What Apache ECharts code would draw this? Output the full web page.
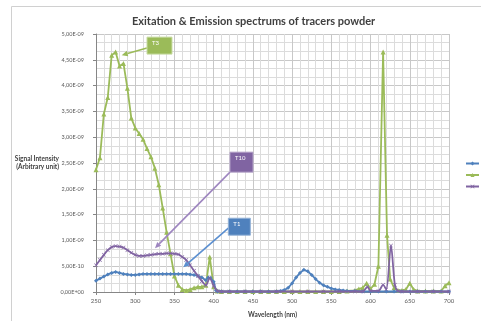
<!DOCTYPE html>
<html>
<head>
<meta charset="utf-8">
<script src="https://cdn.jsdelivr.net/npm/echarts@6/dist/echarts.min.js"></script>
<style>
html,body{margin:0;padding:0;background:#fff;}
#chart{width:481px;height:321px;}
</style>
</head>
<body>
<div id="chart"></div>
<script>
// ---- data (values in units of 1e-9, wavelength in nm) ----
const seriesNames = ['T1', 'T3', 'T10'];
const xTicks = [250, 300, 350, 400, 450, 500, 550, 600, 650, 700];

const t1Wavelength = [250,255,260,265,270,275,280,285,290,295,300,305,310,315,320,325,330,335,340,345,350,355,360,365,370,375,380,385,390,393,396,400,403,405,410,420,430,440,450,460,470,480,485,490,495,500,505,510,515,520,525,530,535,540,545,550,555,560,565,570,580,590,600,610,620,630,640,650,660,670,680,690,700];
const t1Values = [0.22,0.26,0.30,0.34,0.37,0.39,0.37,0.35,0.34,0.33,0.33,0.34,0.35,0.35,0.35,0.35,0.35,0.35,0.35,0.35,0.35,0.35,0.35,0.35,0.34,0.33,0.31,0.28,0.23,0.28,0.27,0.20,0.03,0.01,0.01,0.01,0.01,0.01,0.01,0.01,0.01,0.01,0.02,0.04,0.08,0.17,0.28,0.37,0.43,0.40,0.33,0.25,0.18,0.13,0.10,0.07,0.05,0.04,0.03,0.02,0.02,0.01,0.01,0.01,0.01,0.01,0.01,0.01,0.01,0.01,0.01,0.01,0.01];

const t3Wavelength = [250,255,260,265,270,275,280,285,290,295,300,305,310,315,320,325,330,335,340,345,350,355,360,365,370,375,380,385,390,395,400,405,410,420,430,440,450,460,470,480,490,500,510,520,530,540,550,560,570,580,585,590,595,600,605,610,616,621,625,630,635,640,645,650,655,660,670,680,690,695,700];
const t3Values = [2.37,2.60,3.45,3.77,4.59,4.65,4.38,4.43,3.95,3.37,3.18,3.07,2.96,2.78,2.62,2.40,2.08,1.63,1.16,0.74,0.31,0.13,0.05,0.03,0.05,0.08,0.10,0.10,0.13,0.68,0.10,0.02,0.01,0.01,0.01,0.01,0.01,0.01,0.01,0.01,0.01,0.01,0.01,0.01,0.01,0.01,0.01,0.01,0.02,0.03,0.06,0.08,0.17,0.06,0.15,0.50,4.65,1.10,0.25,0.08,0.03,0.03,0.05,0.17,0.05,0.02,0.02,0.02,0.02,0.12,0.18];

const t10Wavelength = [250,255,260,265,270,275,280,285,290,295,300,305,310,315,320,325,330,335,340,345,350,355,360,365,370,375,380,385,390,395,400,405,410,420,440,460,480,500,520,540,560,580,590,596,600,610,616,620,626,631,635,640,660,680,700];
const t10Values = [0.52,0.62,0.72,0.81,0.87,0.89,0.88,0.86,0.81,0.76,0.72,0.70,0.70,0.71,0.72,0.73,0.74,0.74,0.75,0.75,0.74,0.73,0.68,0.62,0.52,0.41,0.31,0.21,0.13,0.27,0.12,0.02,0.01,0.01,0.01,0.01,0.01,0.01,0.01,0.01,0.01,0.01,0.01,0.10,0.02,0.02,0.14,0.05,0.90,0.14,0.02,0.01,0.01,0.01,0.01];

const SCALE = 1e-9;
function pairs(xs, ys){ return xs.map((x,i)=>[x, ys[i]*SCALE]); }

const colors = { T1:'#4F81BD', T3:'#9BBB59', T10:'#8064A2' };

// callout annotations (anchors in data units, size in px)
const callouts = [
  { text:'T3',  fill:'#9BBB59', stroke:'#C9DCA4', arrow:'#9BBB59', boxAt:[315, 4.94e-9], w:25, h:17, tailDy:11, tailDx:0, tip:[282.8, 4.59e-9] },
  { text:'T10', fill:'#8064A2', stroke:'#B3A2C7', arrow:'#9E86C0', boxAt:[420.8, 2.71e-9], w:23, h:20, tailDy:20, tailDx:0, tip:[325.2, 0.85e-9] },
  { text:'T1',  fill:'#4F81BD', stroke:'#95B3D7', arrow:'#5B8FD0', boxAt:[418.7, 1.43e-9], w:22, h:17, tailDy:10, tailDx:0, tip:[361.3, 0.48e-9] }
];

function fmtSci(v){
  if (v === 0) return '0,00E+00';
  const s = v.toExponential(2).split('e');
  const m = s[0].replace('.', ',');
  let e = parseInt(s[1], 10);
  const sign = e < 0 ? '-' : '+';
  e = Math.abs(e);
  return m + 'E' + sign + (e < 10 ? '0' + e : '' + e);
}

const FONT = 'Lato, "Liberation Sans", sans-serif';
const chart = echarts.init(document.getElementById('chart'), null, {renderer:'canvas'});
const xSymbol = 'path://M0 1L1 0L5 4L9 0L10 1L6 5L10 9L9 10L5 6L1 10L0 9L4 5Z';

const option = {
  animation:false,
  backgroundColor:'#fff',
  title:{
    text:'Exitation & Emission spectrums of tracers powder',
    left:127, top:11,
    textStyle:{ fontFamily:FONT, fontSize:11, fontWeight:'bold', color:'#404040' }
  },
  legend:{
    orient:'vertical', left:465, top:160, padding:0,
    itemWidth:13, itemHeight:5, itemGap:4.5,
    data:seriesNames,
    textStyle:{ fontFamily:FONT, fontSize:7, lineHeight:7, color:'#404040' }
  },
  grid:{ left:96, right:32, top:34, bottom:29, containLabel:false, outerBoundsMode:'none' },
  xAxis:{
    type:'value', min:xTicks[0], max:xTicks[xTicks.length-1], interval:50,
    name:'Wavelength (nm)', nameLocation:'middle', nameGap:19,
    nameTextStyle:{ fontFamily:FONT, fontSize:6.5, fontWeight:'bold', color:'#404040' },
    axisLine:{ lineStyle:{ color:'#868686', width:1 } },
    axisTick:{ show:true, length:3, lineStyle:{ color:'#868686' } },
    axisLabel:{ fontFamily:FONT, fontSize:6, color:'#595959', margin:6 },
    splitLine:{ show:true, lineStyle:{ color:'#C8C8C8', width:1 } },
    minorTick:{ show:false, splitNumber:5 },
    minorSplitLine:{ show:true, lineStyle:{ color:'#DCDCDC', width:1 } }
  },
  yAxis:{
    type:'value', min:0, max:5e-9, interval:5e-10,
    name:'Signal Intensity\n(Arbitrary unit)', nameLocation:'middle', nameRotate:0, nameGap:37,
    nameMoveOverlap:false,
    nameTextStyle:{ fontFamily:FONT, fontSize:6.5, fontWeight:'bold', color:'#404040', lineHeight:8 },
    axisLine:{ show:true, lineStyle:{ color:'#868686', width:1 } },
    axisTick:{ show:true, length:3, lineStyle:{ color:'#868686' } },
    axisLabel:{ fontFamily:FONT, fontSize:5.5, color:'#595959', margin:12, formatter:fmtSci },
    splitLine:{ show:true, lineStyle:{ color:'#C8C8C8', width:1 } },
    minorTick:{ show:false, splitNumber:3 },
    minorSplitLine:{ show:true, lineStyle:{ color:'#DCDCDC', width:1 } }
  },
  series:[
    { name:'T1', type:'line', data:pairs(t1Wavelength, t1Values), color:colors.T1,
      symbol:'diamond', symbolSize:4, showAllSymbol:true, lineStyle:{ width:1.8 }, z:4 },
    { name:'T3', type:'line', data:pairs(t3Wavelength, t3Values), color:colors.T3,
      symbol:'triangle', symbolSize:5, showAllSymbol:true, lineStyle:{ width:1.8 }, z:3 },
    { name:'T10', type:'line', data:pairs(t10Wavelength, t10Values), color:colors.T10,
      symbol:xSymbol, symbolSize:4, showAllSymbol:true, smooth:0.3, lineStyle:{ width:1.8 }, z:5 }
  ]
};
chart.setOption(option);

// build callouts + border from the chart's own coordinate system
function buildGraphics(){
  const els = [{
    type:'rect', z:-10, silent:true,
    shape:{ x:11.5, y:6.5, width:490, height:330 },
    style:{ fill:null, stroke:'#D0D0D0', lineWidth:1 }
  }];
  callouts.forEach(c => {
    const b = chart.convertToPixel({gridIndex:0}, c.boxAt);
    const t = chart.convertToPixel({gridIndex:0}, c.tip);
    const tail = [b[0] + c.tailDx, b[1] + c.tailDy];
    const dx = t[0]-tail[0], dy = t[1]-tail[1];
    const len = Math.sqrt(dx*dx+dy*dy), ux = dx/len, uy = dy/len;
    const hl = 6, hw = 2.8;
    const base = [t[0]-ux*hl, t[1]-uy*hl];
    els.push({ type:'line', z:100, shape:{ x1:tail[0], y1:tail[1], x2:base[0], y2:base[1] },
      style:{ stroke:c.arrow, lineWidth:1.6 } });
    els.push({ type:'polygon', z:100, shape:{ points:[ t, [base[0]-uy*hw, base[1]+ux*hw], [base[0]+uy*hw, base[1]-ux*hw] ] },
      style:{ fill:c.arrow } });
    els.push({ type:'rect', z:101, shape:{ x:b[0], y:b[1], width:c.w, height:c.h },
      style:{ fill:c.fill, stroke:c.stroke, lineWidth:1 } });
    els.push({ type:'text', z:102, x:b[0]+5, y:b[1]+3,
      style:{ text:c.text, fill:'#fff', font:'6px ' + FONT } });
  });
  chart.setOption({ graphic:{ elements:els } });
}
buildGraphics();
</script>
</body>
</html>
